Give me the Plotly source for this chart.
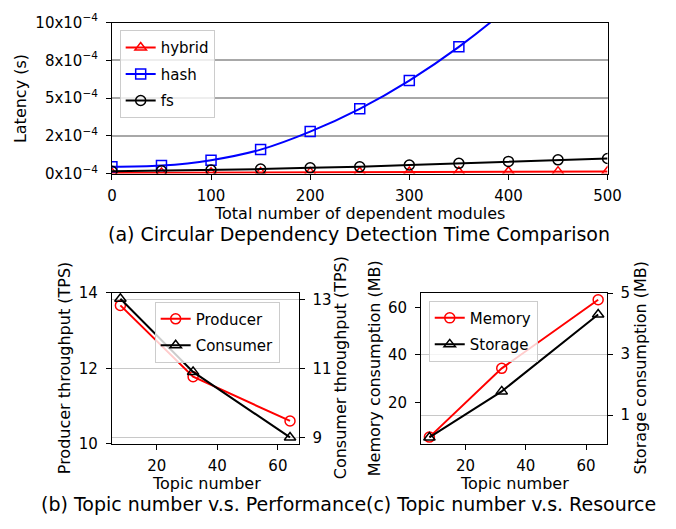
import plotly.graph_objects as go

# ---------------- data ----------------
modules = [0, 50, 100, 150, 200, 250, 300, 350, 400, 450, 500]
hybrid = [4e-6, 5e-6, 6e-6, 7e-6, 8e-6, 9e-6, 1.0e-5, 1.1e-5, 1.2e-5, 1.3e-5, 1.4e-5]
hash_ = [4.5e-5, 5.3e-5, 8.9e-5, 1.59e-4, 2.78e-4, 4.29e-4, 6.16e-4, 8.39e-4, 1.10e-3, 1.40e-3, 1.74e-3]
fs = [1.5e-5, 1.9e-5, 2.4e-5, 3.0e-5, 3.8e-5, 4.5e-5, 5.7e-5, 6.8e-5, 8.1e-5, 9.1e-5, 1.0e-4]
lat_tickvals = [0, 2.5e-4, 5e-4, 7.5e-4, 1e-3]
lat_ticktext = ["0x10<sup>\u22124</sup>", "2x10<sup>\u22124</sup>", "5x10<sup>\u22124</sup>",
                "8x10<sup>\u22124</sup>", "10x10<sup>\u22124</sup>"]

topics = [8, 32, 64]
producer = [13.67, 11.78, 10.61]
consumer = [13.02, 10.90, 9.00]
memory = [5.3, 34.3, 63.2]
storage = [0.27, 1.78, 4.30]

W, H = 676, 529
def px(x):
    return x / W
def py(y):
    return 1 - y / H

FONT = "DejaVu Sans"
FS = 15
TICK = dict(family=FONT, size=FS, color="black")

fig = go.Figure()

# ---------- (a) ----------
fig.add_trace(go.Scatter(x=modules, y=hybrid, name="hybrid", mode="lines+markers",
                         line=dict(color="#ff0000", width=2),
                         marker=dict(symbol="triangle-up-open", size=10, color="#ff0000", line=dict(width=1.5)),
                         xaxis="x", yaxis="y", legend="legend", legendgroup="a1"))
fig.add_trace(go.Scatter(x=modules, y=hash_, name="hash", mode="lines+markers",
                         line=dict(color="#0000ff", width=2, shape="spline", smoothing=1),
                         marker=dict(symbol="square-open", size=10, color="#0000ff", line=dict(width=1.5)),
                         xaxis="x", yaxis="y", legend="legend", legendgroup="a2"))
fig.add_trace(go.Scatter(x=modules, y=fs, name="fs", mode="lines+markers",
                         line=dict(color="black", width=2),
                         marker=dict(symbol="circle-open", size=10, color="black", line=dict(width=1.5)),
                         xaxis="x", yaxis="y", legend="legend", legendgroup="a3"))

# ---------- (b) ----------
fig.add_trace(go.Scatter(x=topics, y=producer, name="Producer", mode="lines+markers",
                         line=dict(color="#ff0000", width=2),
                         marker=dict(symbol="circle-open", size=10, color="#ff0000", line=dict(width=1.5)),
                         xaxis="x2", yaxis="y2", legend="legend2", legendgroup="b1"))
fig.add_trace(go.Scatter(x=topics, y=consumer, name="Consumer", mode="lines+markers",
                         line=dict(color="black", width=2),
                         marker=dict(symbol="triangle-up-open", size=10, color="black", line=dict(width=1.5)),
                         xaxis="x2", yaxis="y3", legend="legend2", legendgroup="b2"))

# ---------- (c) ----------
fig.add_trace(go.Scatter(x=topics, y=memory, name="Memory", mode="lines+markers",
                         line=dict(color="#ff0000", width=2),
                         marker=dict(symbol="circle-open", size=10, color="#ff0000", line=dict(width=1.5)),
                         xaxis="x3", yaxis="y4", legend="legend3", legendgroup="c1"))
fig.add_trace(go.Scatter(x=topics, y=storage, name="Storage", mode="lines+markers",
                         line=dict(color="black", width=2),
                         marker=dict(symbol="triangle-up-open", size=10, color="black", line=dict(width=1.5)),
                         xaxis="x3", yaxis="y5", legend="legend3", legendgroup="c2"))

common_axis = dict(showline=True, linecolor="black", linewidth=1, ticks="outside",
                   ticklen=5, tickwidth=1, tickcolor="black", tickfont=TICK,
                   zeroline=False)
xcommon = dict(ticklabelstandoff=3, **common_axis)
ycommon = dict(ticklabelstandoff=5, **common_axis)

dom_top_x = [px(110), px(620)]
dom_top_y = [py(169), py(12)]
dom_bl_x = [px(110), px(302)]
dom_br_x = [px(428), px(619)]
dom_b_y = [py(450), py(293)]

legend_common = dict(bgcolor="rgba(255,255,255,0.8)", bordercolor="#cccccc", borderwidth=1,
                     font=dict(family=FONT, size=FS, color="black"), xanchor="left", yanchor="top",
                     traceorder="grouped", tracegroupgap=4, itemwidth=30)

fig.update_layout(
    width=W, height=H, margin=dict(l=0, r=0, t=0, b=0),
    paper_bgcolor="white", plot_bgcolor="white",
    font=dict(family=FONT, size=FS, color="black"),
    xaxis=dict(domain=dom_top_x, anchor="y", range=[0, 500], tickvals=[0, 100, 200, 300, 400, 500],
               mirror=True, showgrid=False, **xcommon),
    yaxis=dict(domain=dom_top_y, anchor="x", range=[0, 1e-3], tickvals=lat_tickvals, ticktext=lat_ticktext,
               mirror=True, showgrid=True, gridcolor="#a8a8a8", gridwidth=1.5, **ycommon),
    xaxis2=dict(domain=dom_bl_x, anchor="y2", range=[5.2, 66.8], tickvals=[20, 40, 60],
                mirror=True, showgrid=False, **xcommon),
    yaxis2=dict(domain=dom_b_y, anchor="x2", range=[10, 14], tickvals=[10, 12, 14],
                mirror=True, showgrid=False, **ycommon),
    yaxis3=dict(overlaying="y2", anchor="x2", side="right", range=[8.81, 13.19], tickvals=[9, 11, 13],
                showgrid=True, gridcolor="#c8c8c8", gridwidth=1, **ycommon),
    xaxis3=dict(domain=dom_br_x, anchor="y4", range=[5.2, 66.8], tickvals=[20, 40, 60],
                mirror=True, showgrid=False, **xcommon),
    yaxis4=dict(domain=dom_b_y, anchor="x3", range=[2.4, 66.1], tickvals=[20, 40, 60],
                mirror=True, showgrid=False, **ycommon),
    yaxis5=dict(overlaying="y4", anchor="x3", side="right", range=[0.055, 5.01], tickvals=[1, 3, 5],
                showgrid=True, gridcolor="#c8c8c8", gridwidth=1, **ycommon),
    legend=dict(x=px(118), y=py(20), **legend_common),
    legend2=dict(x=px(154), y=py(302), **legend_common),
    legend3=dict(x=px(436), y=py(301), **legend_common),
)

def note(text, x, y, size=16, angle=0, xanchor="center"):
    fig.add_annotation(text=text, x=px(x), y=py(y), xref="paper", yref="paper",
                       showarrow=False, textangle=angle, xanchor=xanchor, yanchor="middle",
                       font=dict(family=FONT, size=size, color="black"))

note("Latency (s)", 16, 91, angle=-90)
note("Total number of dependent modules", 365, 210)
note("(a) Circular Dependency Detection Time Comparison", 364, 232, size=19)

note("Producer throughput (TPS)", 62, 371, angle=-90)
note("Consumer throughput (TPS)", 346, 371, angle=-90)
note("Memory consumption (MB)", 381, 371, angle=-90)
note("Storage consumption (MB)", 654, 371, angle=-90)
note("Topic number", 207, 491)
note("Topic number", 524, 491)
note("(b) Topic number v.s. Performance", 373, 512, size=19, xanchor="right")
note("(c) Topic number v.s. Resource", 369, 512, size=19, xanchor="left")

fig.write_html("out.html")
